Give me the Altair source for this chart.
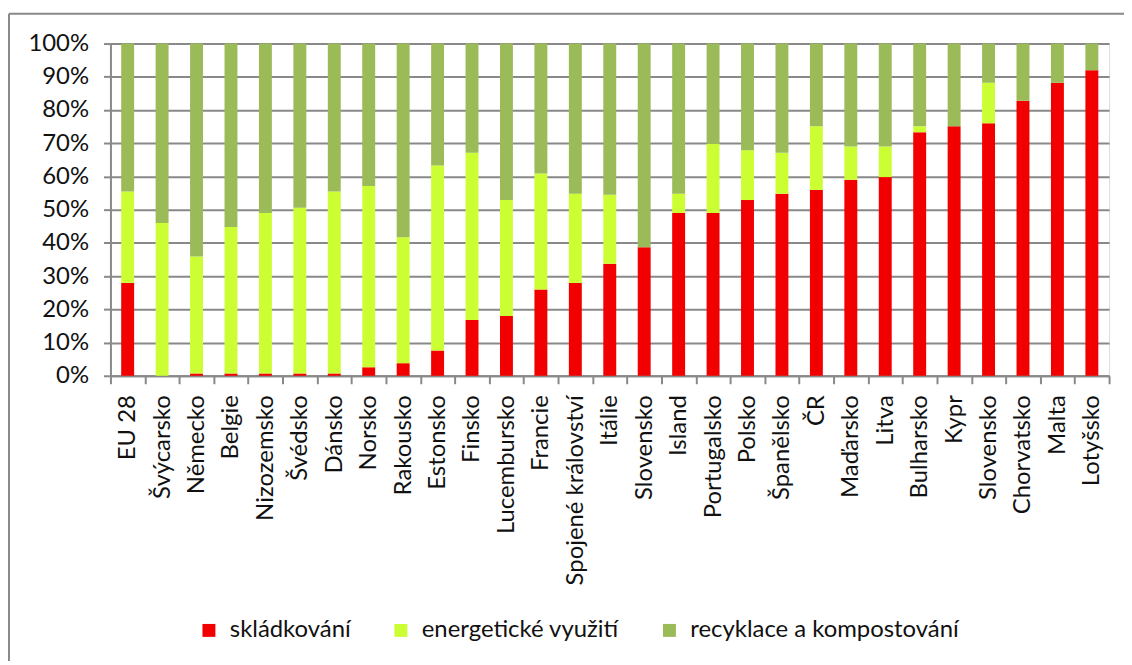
import altair as alt
import pandas as pd

countries = ["EU 28", "Švýcarsko", "Německo", "Belgie", "Nizozemsko", "Švédsko",
             "Dánsko", "Norsko", "Rakousko", "Estonsko", "Finsko", "Lucembursko",
             "Francie", "Spojené království", "Itálie", "Slovensko", "Island",
             "Portugalsko", "Polsko", "Španělsko", "ČR", "Maďarsko", "Litva",
             "Bulharsko", "Kypr", "Slovensko", "Chorvatsko", "Malta", "Lotyšsko"]

landfill = [27.9, 0.0, 0.7, 0.7, 0.7, 0.7, 0.7, 2.6, 3.8, 7.6, 16.8, 18.0, 26.0,
            27.9, 33.7, 38.7, 49.0, 49.0, 52.9, 54.8, 55.9, 59.0, 59.8, 73.3,
            75.1, 76.0, 82.8, 88.2, 92.0]
energy = [27.6, 46.0, 35.2, 44.1, 48.3, 49.9, 54.8, 54.5, 37.9, 55.7, 50.3, 34.9,
          34.9, 26.9, 20.8, 0.0, 5.8, 20.8, 15.0, 12.3, 19.2, 10.0, 9.2, 1.8,
          0.0, 12.2, 0.0, 0.0, 0.0]
recycling = [44.5, 54.0, 64.1, 55.2, 51.0, 49.4, 44.5, 42.9, 58.3, 36.7, 32.9, 47.1,
             39.1, 45.2, 45.5, 61.3, 45.2, 30.2, 32.1, 32.9, 24.9, 31.0, 31.0, 24.9,
             24.9, 11.8, 17.2, 11.8, 8.0]

series = ["skládkování", "energetické využití", "recyklace a kompostování"]
colors = ["#F20000", "#CCFF33", "#9BBB59"]

rows = []
for i, c in enumerate(countries):
    for k, vals in enumerate([landfill, energy, recycling]):
        rows.append({"idx": i, "country": c, "series": series[k], "ord": k, "value": vals[i]})
df = pd.DataFrame(rows)

label_array = "[" + ",".join("'" + c + "'" for c in countries) + "]"

FONT = "Lato"
FS = 24
TXT = "#111111"
GRID = "#898989"

bars = alt.Chart(df).mark_bar(size=13).encode(
    x=alt.X("idx:O", title=None,
            scale=alt.Scale(paddingInner=0, paddingOuter=0),
            axis=alt.Axis(labelExpr=label_array + "[datum.value]", labelAngle=-90,
                          labelFont=FONT, labelFontSize=FS, labelColor=TXT,
                          labelPadding=11, tickSize=8, tickBand="extent",
                          tickColor=GRID, tickWidth=2, domainColor=GRID, domainWidth=2,
                          grid=False, labelOverlap=False, labelLimit=0)),
    y=alt.Y("value:Q", stack="zero", title=None,
            scale=alt.Scale(domain=[0, 100], nice=False),
            axis=alt.Axis(values=list(range(0, 101, 10)), labelExpr="datum.value + '%'",
                          labelFont=FONT, labelFontSize=FS, labelColor=TXT,
                          labelPadding=15, tickSize=7, tickColor=GRID, tickWidth=2,
                          domainColor=GRID, domainWidth=2,
                          grid=True, gridColor=GRID, gridWidth=2)),
    color=alt.Color("series:N", scale=alt.Scale(domain=series, range=colors),
                    legend=alt.Legend(title=None, orient="none", direction="horizontal",
                                      legendX=87, legendY=578, symbolType="square",
                                      symbolSize=169, symbolStrokeWidth=0,
                                      labelFont=FONT, labelFontSize=FS, labelColor=TXT,
                                      labelLimit=0, labelOffset=9, columnPadding=38,
                                      padding=0)),
    order=alt.Order("ord:Q"),
)

frame_v = alt.Chart(alt.Data(values=[{}])).mark_rule(color=GRID, strokeWidth=2).encode(
    x=alt.value(-102), y=alt.value(-30), y2=alt.value(700))
frame_h = alt.Chart(alt.Data(values=[{}])).mark_rule(color=GRID, strokeWidth=2).encode(
    x=alt.value(-102), x2=alt.value(1100), y=alt.value(-30))

chart = alt.layer(frame_v, frame_h, bars).properties(
    width=1004, height=334,
    autosize=alt.AutoSizeParams(type="none"),
    padding={"left": 103, "top": 34, "right": 15, "bottom": 285},
).configure_view(stroke=None).configure(background="white")

chart.save("out.html", embed_options={"renderer": "svg", "actions": False})
